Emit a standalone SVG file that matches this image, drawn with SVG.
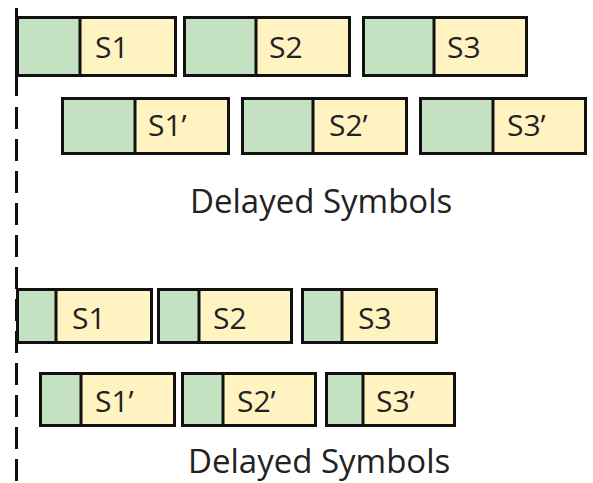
<svg xmlns="http://www.w3.org/2000/svg" width="593" height="483" viewBox="0 0 593 483">
<style>
.g{fill:#c4e2c2}
.y{fill:#fff3c2}
.o{fill:none;stroke:#111;stroke-width:3}
.d{stroke:#111;stroke-width:3}
.t{font-family:"Open Sans","DejaVu Sans",sans-serif;font-size:30px;fill:#222}
.c{font-family:"Open Sans","DejaVu Sans",sans-serif;font-size:33px;fill:#222}
.ax{stroke:#111;stroke-width:3}
</style>
<rect width="593" height="483" fill="#fff"/>
<g id="connectors">
<line class="ax" x1="16.5" y1="8" x2="16.5" y2="96"/>
<line class="ax" x1="16.5" y1="107" x2="16.5" y2="483" stroke-dasharray="22,10"/>
</g>
<g id="s1">
<rect class="g" x="17.5" y="17.5" width="63" height="58"/><rect class="y" x="80" y="17.5" width="95.5" height="58"/>
<rect class="o" x="17.5" y="17.5" width="158" height="58"/><line class="d" x1="80" y1="17.5" x2="80" y2="75.5"/>
<text class="t" x="95" y="58">S1</text>
</g>
<g id="s2">
<rect class="g" x="184.5" y="17.5" width="72" height="58"/><rect class="y" x="256" y="17.5" width="93.5" height="58"/>
<rect class="o" x="184.5" y="17.5" width="165" height="58"/><line class="d" x1="256" y1="17.5" x2="256" y2="75.5"/>
<text class="t" x="269" y="58">S2</text>
</g>
<g id="s3">
<rect class="g" x="363.5" y="17.5" width="71" height="58"/><rect class="y" x="434" y="17.5" width="92.5" height="58"/>
<rect class="o" x="363.5" y="17.5" width="163" height="58"/><line class="d" x1="434" y1="17.5" x2="434" y2="75.5"/>
<text class="t" x="447" y="58">S3</text>
</g>
<g id="s1p">
<rect class="g" x="62.5" y="98.5" width="73" height="55"/><rect class="y" x="135" y="98.5" width="93.5" height="55"/>
<rect class="o" x="62.5" y="98.5" width="166" height="55"/><line class="d" x1="135" y1="98.5" x2="135" y2="153.5"/>
<text class="t" x="148" y="136">S1’</text>
</g>
<g id="s2p">
<rect class="g" x="242.5" y="98.5" width="71" height="55"/><rect class="y" x="313" y="98.5" width="93.5" height="55"/>
<rect class="o" x="242.5" y="98.5" width="164" height="55"/><line class="d" x1="313" y1="98.5" x2="313" y2="153.5"/>
<text class="t" x="329" y="136">S2’</text>
</g>
<g id="s3p">
<rect class="g" x="420.5" y="98.5" width="73" height="55"/><rect class="y" x="493" y="98.5" width="92.5" height="55"/>
<rect class="o" x="420.5" y="98.5" width="165" height="55"/><line class="d" x1="493" y1="98.5" x2="493" y2="153.5"/>
<text class="t" x="507" y="136">S3’</text>
</g>
<g id="label1"><text class="c" x="190" y="213">Delayed Symbols</text></g>
<g id="b1">
<rect class="g" x="17.5" y="289.5" width="39" height="53"/><rect class="y" x="56" y="289.5" width="95.5" height="53"/>
<rect class="o" x="17.5" y="289.5" width="134" height="53"/><line class="d" x1="56" y1="289.5" x2="56" y2="342.5"/>
<text class="t" x="72" y="329">S1</text>
</g>
<g id="b2">
<rect class="g" x="158.5" y="289.5" width="41" height="53"/><rect class="y" x="199" y="289.5" width="92.5" height="53"/>
<rect class="o" x="158.5" y="289.5" width="133" height="53"/><line class="d" x1="199" y1="289.5" x2="199" y2="342.5"/>
<text class="t" x="213" y="329">S2</text>
</g>
<g id="b3">
<rect class="g" x="302.5" y="289.5" width="40" height="53"/><rect class="y" x="342" y="289.5" width="94.5" height="53"/>
<rect class="o" x="302.5" y="289.5" width="134" height="53"/><line class="d" x1="342" y1="289.5" x2="342" y2="342.5"/>
<text class="t" x="358" y="329">S3</text>
</g>
<g id="b1p">
<rect class="g" x="40.5" y="373.5" width="41" height="52"/><rect class="y" x="81" y="373.5" width="93.5" height="52"/>
<rect class="o" x="40.5" y="373.5" width="134" height="52"/><line class="d" x1="81" y1="373.5" x2="81" y2="425.5"/>
<text class="t" x="95" y="412">S1’</text>
</g>
<g id="b2p">
<rect class="g" x="182.5" y="373.5" width="41" height="52"/><rect class="y" x="223" y="373.5" width="92.5" height="52"/>
<rect class="o" x="182.5" y="373.5" width="133" height="52"/><line class="d" x1="223" y1="373.5" x2="223" y2="425.5"/>
<text class="t" x="237" y="412">S2’</text>
</g>
<g id="b3p">
<rect class="g" x="326.5" y="373.5" width="37" height="52"/><rect class="y" x="363" y="373.5" width="91.5" height="52"/>
<rect class="o" x="326.5" y="373.5" width="128" height="52"/><line class="d" x1="363" y1="373.5" x2="363" y2="425.5"/>
<text class="t" x="376" y="412">S3’</text>
</g>
<g id="label2"><text class="c" x="188" y="473">Delayed Symbols</text></g>
</svg>
